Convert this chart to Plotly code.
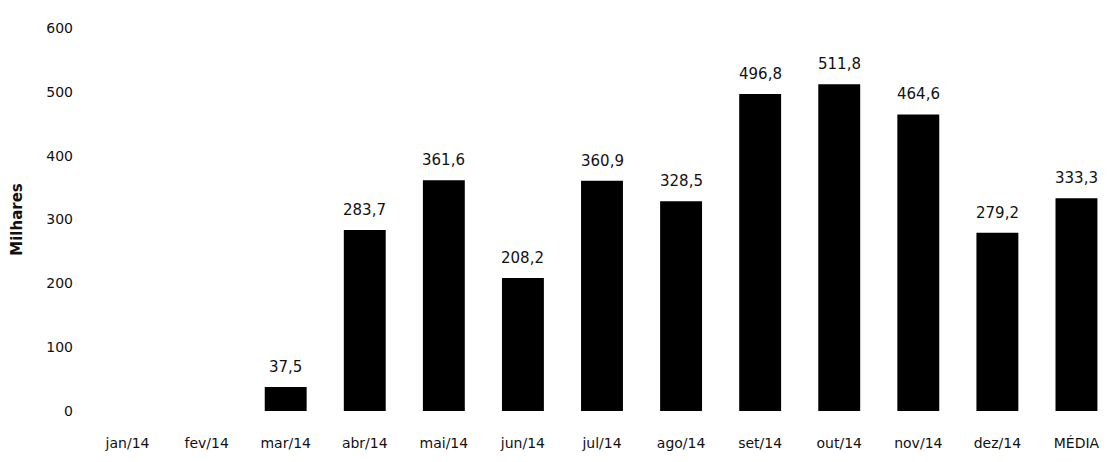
import plotly.graph_objects as go

# Monthly totals (thousands), plus the average of the months with data
categories = ["jan/14", "fev/14", "mar/14", "abr/14", "mai/14", "jun/14", "jul/14",
              "ago/14", "set/14", "out/14", "nov/14", "dez/14", "MÉDIA"]
values = [None, None, 37.5, 283.7, 361.6, 208.2, 360.9, 328.5, 496.8, 511.8, 464.6, 279.2, 333.3]
y_ticks = [0, 100, 200, 300, 400, 500, 600]

FONT = "DejaVu Sans"

fig = go.Figure(
    go.Bar(
        x=categories,
        y=values,
        marker=dict(color="#000000", line=dict(width=0)),
        hoverinfo="x+y",
    )
)

# value labels above each bar, Portuguese decimal comma
for cat, v in zip(categories, values):
    if v is None:
        continue
    fig.add_annotation(
        x=cat, y=v, text=f"{v:.1f}".replace(".", ","),
        showarrow=False, yanchor="bottom", yshift=9,
        font=dict(family=FONT, size=15, color="#111111"),
    )

fig.update_layout(
    width=1116,
    height=462,
    margin=dict(l=88, r=0, t=28, b=51),
    plot_bgcolor="white",
    paper_bgcolor="white",
    bargap=0.47,
    showlegend=False,
    font=dict(family=FONT, color="#111111"),
)

fig.update_xaxes(
    showgrid=False, showline=False, zeroline=False, ticks="",
    tickfont=dict(size=14), ticklabelstandoff=22,
)
fig.update_yaxes(
    range=[0, 600], tickvals=y_ticks, showgrid=False, showline=False, zeroline=False,
    ticks="", tickfont=dict(size=14), ticklabelstandoff=14,
    title=dict(text="<b>Milhares</b>", font=dict(size=15), standoff=20),
)

fig.write_html("out.html")
